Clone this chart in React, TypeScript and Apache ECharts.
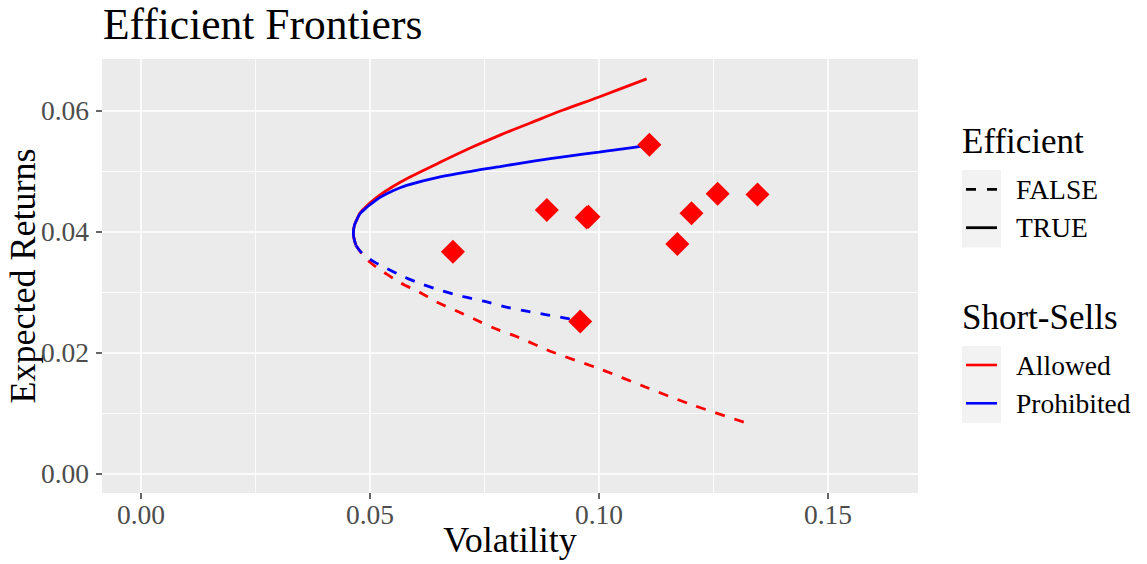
import React, { useEffect, useRef } from "react";
import * as echarts from "echarts";

// ---- Axis ticks ----
const xMajorTicks = [0, 0.05, 0.1, 0.15];
const xMinorTicks = [0.025, 0.075, 0.125];
const yMajorTicks = [0, 0.02, 0.04, 0.06];
const yMinorTicks = [0.01, 0.03, 0.05];

// ---- Frontier: short-sells allowed, efficient (solid) ----
const allowedEffVol = [0.0469, 0.04645, 0.04637, 0.0466, 0.0471, 0.0478, 0.0489, 0.05, 0.0522, 0.055, 0.058, 0.0653, 0.0726, 0.0784, 0.085, 0.092, 0.1, 0.1104];
const allowedEffRet = [0.0377, 0.039, 0.0398, 0.041, 0.0419, 0.043, 0.0439, 0.0447, 0.046, 0.0474, 0.0487, 0.0514, 0.054, 0.0559, 0.0579, 0.06, 0.0622, 0.0652];

// ---- Frontier: short-sells allowed, inefficient (dashed) ----
const allowedIneffVol = [0.0469, 0.048, 0.0489, 0.051, 0.0529, 0.0566, 0.0609, 0.0649, 0.0693, 0.0733, 0.0777, 0.082, 0.09, 0.1, 0.11, 0.12, 0.1331];
const allowedIneffRet = [0.0377, 0.0365, 0.0356, 0.0343, 0.0333, 0.0315, 0.0299, 0.0282, 0.0267, 0.0253, 0.0238, 0.0226, 0.02, 0.0173, 0.0143, 0.0114, 0.0081];

// ---- Frontier: short-sells prohibited, efficient (solid) ----
const prohibEffVol = [0.0469, 0.04645, 0.04637, 0.0466, 0.0471, 0.0478, 0.0489, 0.05, 0.0522, 0.055, 0.058, 0.0653, 0.0726, 0.0784, 0.0857, 0.093, 0.1, 0.106, 0.111];
const prohibEffRet = [0.0377, 0.039, 0.0398, 0.041, 0.0419, 0.0429, 0.0437, 0.0444, 0.0456, 0.0467, 0.0476, 0.049, 0.05, 0.0507, 0.0516, 0.0524, 0.0531, 0.0537, 0.0543];

// ---- Frontier: short-sells prohibited, inefficient (dashed) ----
const prohibIneffVol = [0.0469, 0.048, 0.0493, 0.051, 0.0533, 0.0573, 0.0616, 0.066, 0.0704, 0.0751, 0.0795, 0.0842, 0.0886, 0.093, 0.0959];
const prohibIneffRet = [0.0377, 0.0366, 0.0358, 0.0349, 0.034, 0.0325, 0.0312, 0.0301, 0.0292, 0.0284, 0.0275, 0.0268, 0.0262, 0.0256, 0.0251];

// ---- Individual assets ----
const assetVol = [0.0681, 0.0886, 0.0973, 0.0977, 0.111, 0.1171, 0.1202, 0.1259, 0.1346, 0.0959];
const assetRet = [0.0366, 0.0435, 0.0423, 0.0424, 0.0543, 0.0379, 0.043, 0.0462, 0.0461, 0.0251];

// ---- Labels ----
const titleText = "Efficient Frontiers";
const xTitle = "Volatility";
const yTitle = "Expected Returns";
const legendEffTitle = "Efficient";
const legendEffLabels = ["FALSE", "TRUE"];
const legendShortTitle = "Short-Sells";
const legendShortLabels = ["Allowed", "Prohibited"];

const FONT = "'Liberation Serif', 'Times New Roman', serif";
const RED = "#FF0000";
const BLUE = "#0000FF";

const zip = (xs: number[], ys: number[]) => xs.map((x, i) => [x, ys[i]]);

function txt(x: number, y: number, text: string, size: number, opts: any = {}) {
  return {
    type: "text",
    x,
    y,
    rotation: opts.rotation || 0,
    style: {
      text,
      fontSize: size,
      fontFamily: FONT,
      fill: opts.fill || "#000000",
      align: opts.align || "left",
      textAlign: opts.align || "left",
      verticalAlign: "middle",
      textVerticalAlign: "middle",
    },
  };
}

export default function App() {
  const ref = useRef<HTMLDivElement>(null);

  useEffect(() => {
    if (!ref.current) return;
    const chart = echarts.init(ref.current, undefined, { renderer: "svg" });

    const xMin = -0.00852;
    const xMax = 0.16965;
    const yMin = -0.00326;
    const yMax = 0.06848;

    const lineSeries = (name: string, data: number[][], color: string, dashed: boolean) => ({
      type: "line",
      name,
      data,
      showSymbol: false,
      symbol: "none",
      smooth: 0.3,
      xAxisIndex: 0,
      yAxisIndex: 0,
      z: 3,
      lineStyle: { color, width: 2.8, type: dashed ? [10, 10] : "solid", cap: "butt", opacity: 1 },
      emphasis: { disabled: true },
      silent: true,
    });

    const legendX = 962;
    const keyW = 39;
    const graphics: any[] = [
      txt(103, 23.5, titleText, 43.5),
      txt(510, 540, xTitle, 36, { align: "center" }),
      txt(23, 276, yTitle, 36, { align: "center", rotation: Math.PI / 2 }),
      // Efficient legend
      txt(legendX, 141, legendEffTitle, 35),
      { type: "rect", shape: { x: legendX, y: 170, width: keyW, height: 77.5 }, style: { fill: "#F2F2F2" } },
      { type: "line", shape: { x1: 966, y1: 189.3, x2: 997, y2: 189.3 }, style: { stroke: "#000000", lineWidth: 2.8, lineDash: [10, 11] } },
      { type: "line", shape: { x1: 966, y1: 227.7, x2: 997, y2: 227.7 }, style: { stroke: "#000000", lineWidth: 2.8 } },
      txt(1016, 189.3, legendEffLabels[0], 27.5),
      txt(1016, 227.7, legendEffLabels[1], 27.5),
      // Short-sells legend
      txt(legendX, 317.5, legendShortTitle, 35),
      { type: "rect", shape: { x: legendX, y: 346, width: keyW, height: 77 }, style: { fill: "#F2F2F2" } },
      { type: "line", shape: { x1: 966, y1: 365, x2: 997, y2: 365 }, style: { stroke: RED, lineWidth: 2.6 } },
      { type: "line", shape: { x1: 966, y1: 403.3, x2: 997, y2: 403.3 }, style: { stroke: BLUE, lineWidth: 2.6 } },
      txt(1016, 365, legendShortLabels[0], 27.5),
      txt(1016, 403.3, legendShortLabels[1], 27.5),
    ];

    const option: any = {
      animation: false,
      backgroundColor: "#FFFFFF",
      textStyle: { fontFamily: FONT },
      grid: {
        left: 102,
        top: 59,
        right: 229,
        bottom: 71,
        show: true,
        backgroundColor: "#EBEBEB",
        borderWidth: 0,
        containLabel: false,
      },
      xAxis: [
        {
          type: "value",
          min: xMin,
          max: xMax,
          position: "bottom",
          axisLine: { show: false, onZero: false },
          axisTick: { show: true, length: 6, lineStyle: { color: "#333333", width: 1.5 }, customValues: xMajorTicks },
          axisLabel: {
            show: true,
            customValues: xMajorTicks,
            formatter: (v: number) => v.toFixed(2),
            color: "#4D4D4D",
            fontSize: 27.5,
            fontFamily: FONT,
            margin: 21,
            verticalAlign: "middle",
          },
          splitLine: { show: true, lineStyle: { color: "#FFFFFF", width: 1.6 } },
        },
        {
          type: "value",
          min: xMin,
          max: xMax,
          position: "top",
          axisLine: { show: false, onZero: false },
          axisTick: { show: false, customValues: xMinorTicks },
          axisLabel: { show: false, customValues: xMinorTicks },
          splitLine: { show: true, lineStyle: { color: "#FFFFFF", width: 0.8 } },
        },
      ],
      yAxis: [
        {
          type: "value",
          min: yMin,
          max: yMax,
          position: "left",
          axisLine: { show: false, onZero: false },
          axisTick: { show: true, length: 6, lineStyle: { color: "#333333", width: 1.5 }, customValues: yMajorTicks },
          axisLabel: {
            show: true,
            customValues: yMajorTicks,
            formatter: (v: number) => v.toFixed(2),
            color: "#4D4D4D",
            fontSize: 27.5,
            fontFamily: FONT,
            margin: 13,
          },
          splitLine: { show: true, lineStyle: { color: "#FFFFFF", width: 1.6 } },
        },
        {
          type: "value",
          min: yMin,
          max: yMax,
          position: "right",
          axisLine: { show: false, onZero: false },
          axisTick: { show: false, customValues: yMinorTicks },
          axisLabel: { show: false, customValues: yMinorTicks },
          splitLine: { show: true, lineStyle: { color: "#FFFFFF", width: 0.8 } },
        },
      ],
      series: [
        lineSeries("Allowed-FALSE", zip(allowedIneffVol, allowedIneffRet), RED, true),
        lineSeries("Prohibited-FALSE", zip(prohibIneffVol, prohibIneffRet), BLUE, true),
        lineSeries("Allowed-TRUE", zip(allowedEffVol, allowedEffRet), RED, false),
        lineSeries("Prohibited-TRUE", zip(prohibEffVol, prohibEffRet), BLUE, false),
        {
          type: "scatter",
          name: "Assets",
          data: zip(assetVol, assetRet),
          symbol: "diamond",
          symbolSize: 24,
          itemStyle: { color: RED, opacity: 1 },
          emphasis: { disabled: true },
          xAxisIndex: 0,
          yAxisIndex: 0,
          z: 5,
          silent: true,
        },
      ],
      graphic: { elements: graphics },
    };

    chart.setOption(option);
    return () => chart.dispose();
  }, []);

  return <div ref={ref} style={{ position: "absolute", left: 0, top: 0, width: 1147, height: 564 }} />;
}
